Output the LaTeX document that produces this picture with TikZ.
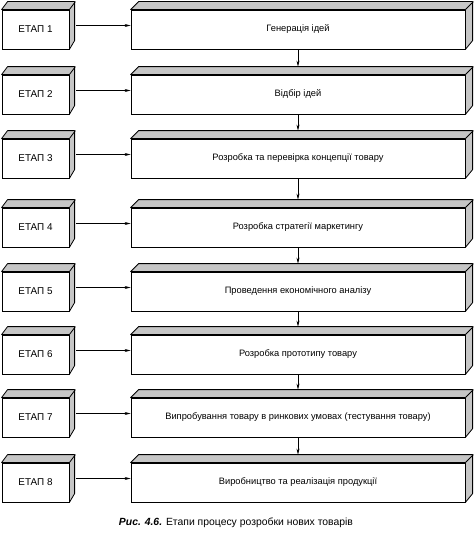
\documentclass[tikz,border=0pt]{standalone}
\usepackage{fontspec}
\setmainfont{Liberation Sans}
\usetikzlibrary{calc,arrows.meta}

\tikzset{
  stagebox/.style={draw, line width=0.8pt, fill=white, minimum width=67pt,
    minimum height=39pt, inner sep=0pt, font=\fontsize{9.9}{12}\selectfont},
  taskbox/.style={draw, line width=0.8pt, fill=white, minimum width=334pt,
    minimum height=39pt, inner sep=0pt, font=\fontsize{9.3}{11}\selectfont},
  face/.style={draw, line width=0.8pt, fill=gray!45, line join=round},
  arr/.style={-{Stealth[length=6pt,width=3pt]}, line width=0.6pt},
}

\begin{document}
\begin{tikzpicture}[x=1pt, y=-1pt]
  \useasboundingbox (0,0) rectangle (476,543);
  % stages and their tasks
  \foreach \i/\y/\txt in {
    1/10/{Генерація ідей},
    2/75/{Відбір ідей},
    3/139/{Розробка та перевірка концепції товару},
    4/208/{Розробка стратегії маркетингу},
    5/272/{Проведення економічного аналізу},
    6/335/{Розробка прототипу товару},
    7/398/{Випробування товару в ринкових умовах (тестування товару)},
    8/463/{Виробництво та реалізація продукції}}
  {
    \node[stagebox] (s\i) at (35.5,\y+19.5) {ЕТАП \i};
    \node[taskbox] (t\i) at (298,\y+19.5) {\txt};
    % top and side faces
    \draw[face] (s\i.north west) -- ++(6pt,8pt) -- ++(67pt,0pt) -- ++(0pt,-39pt)
      -- (s\i.south east) -- (s\i.north east) -- cycle;
    \draw[line width=0.8pt] (s\i.north east) -- ++(6pt,8pt);
    \draw[face] (t\i.north west) -- ++(8pt,8pt) -- ++(334pt,0pt) -- ++(0pt,-39pt)
      -- (t\i.south east) -- (t\i.north east) -- cycle;
    \draw[line width=0.8pt] (t\i.north east) -- ++(8pt,8pt);
    \coordinate (s\i out) at ($(s\i.east)+(7pt,4pt)$);
    \coordinate (t\i in) at ($(t\i.north)+(0pt,8pt)$);
    \draw[arr] (s\i out) -- (t\i.west |- s\i out);
  }
  \foreach \i [evaluate=\i as \j using int(\i+1)] in {1,...,7}
    \draw[arr] (t\i.south) -- (t\j in);

  \node[font=\fontsize{10.4}{12}\selectfont] (caption) at (236,523)
    {\textbf{\textit{Рис. 4.6.}} Етапи процесу розробки нових товарів};
\end{tikzpicture}
\end{document}
